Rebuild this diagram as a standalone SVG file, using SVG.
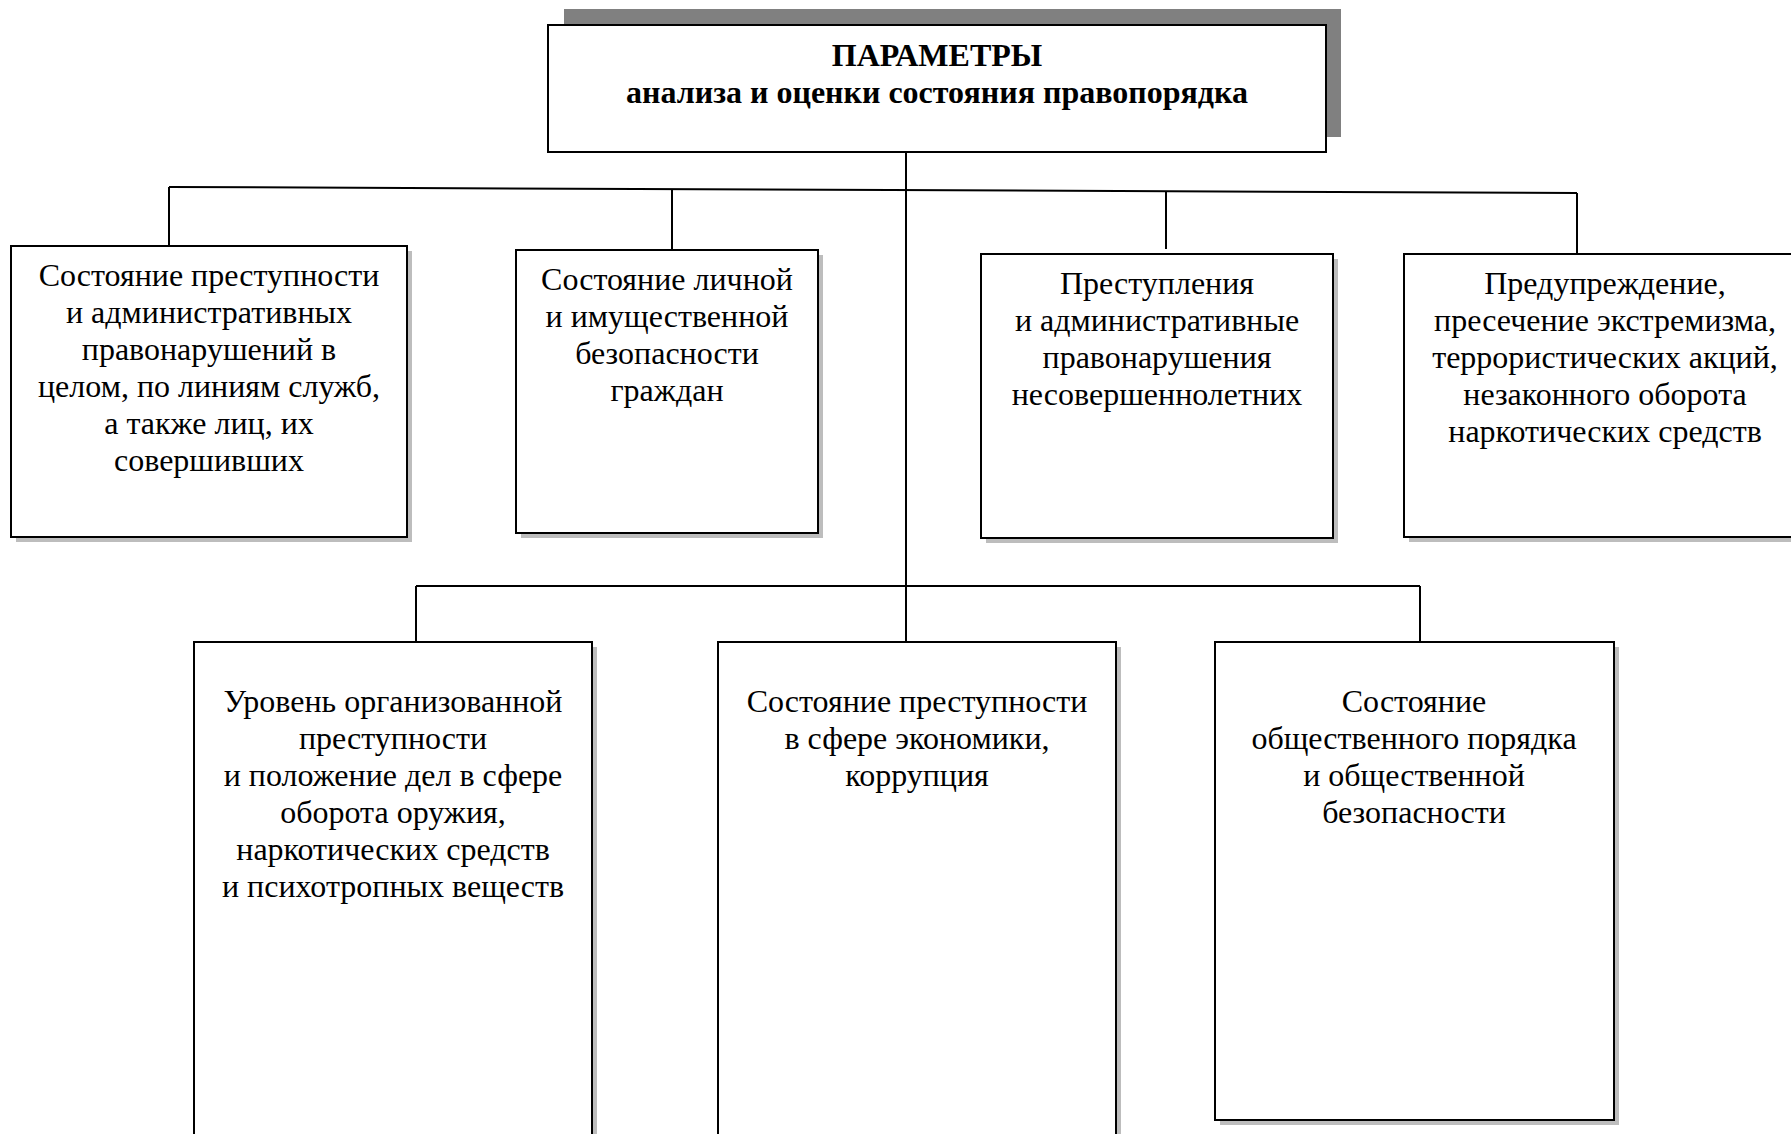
<svg xmlns="http://www.w3.org/2000/svg" width="1791" height="1134" viewBox="0 0 1791 1134">
<style>
.box{fill:#fff;stroke:#000;stroke-width:2}
.sh{fill:#bdbdbd}
.conn{stroke:#000;stroke-width:2;fill:none}
.t{font-family:"Liberation Serif","Times New Roman",serif;font-size:32px;fill:#000;text-anchor:middle}
.b{font-weight:bold}
</style>
<rect width="1791" height="1134" fill="#fff"/>
<g id="connectors">
<line class="conn" x1="906" y1="152" x2="906" y2="642"/>
<line class="conn" x1="169" y1="187" x2="1577" y2="193"/>
<line class="conn" x1="169" y1="187" x2="169" y2="246"/>
<line class="conn" x1="672" y1="189" x2="672" y2="249"/>
<line class="conn" x1="1166" y1="191" x2="1166" y2="249"/>
<line class="conn" x1="1577" y1="193" x2="1577" y2="253"/>
<line class="conn" x1="416" y1="586" x2="1420" y2="586"/>
<line class="conn" x1="416" y1="586" x2="416" y2="642"/>
<line class="conn" x1="1420" y1="586" x2="1420" y2="642"/>
</g>
<g id="root">
<rect x="564" y="9" width="777" height="128" fill="#808080"/>
<rect class="box" x="548" y="25" width="778" height="127" stroke-width="2.5"/>
<text class="t b" x="937" y="66">ПАРАМЕТРЫ</text>
<text class="t b" x="937" y="103">анализа и оценки состояния правопорядка</text>
</g>
<g id="n1">
<rect class="sh" x="16" y="251" width="396" height="291"/>
<rect class="box" x="11" y="246" width="396" height="291"/>
<text class="t"><tspan x="209" y="286">Состояние преступности</tspan><tspan x="209" y="323">и административных</tspan><tspan x="209" y="360">правонарушений в</tspan><tspan x="209" y="397">целом, по линиям служб,</tspan><tspan x="209" y="434">а также лиц, их</tspan><tspan x="209" y="471">совершивших</tspan></text>
</g>
<g id="n2">
<rect class="sh" x="521" y="255" width="302" height="283"/>
<rect class="box" x="516" y="250" width="302" height="283"/>
<text class="t"><tspan x="667" y="290">Состояние личной</tspan><tspan x="667" y="327">и имущественной</tspan><tspan x="667" y="364">безопасности</tspan><tspan x="667" y="401">граждан</tspan></text>
</g>
<g id="n3">
<rect class="sh" x="986" y="259" width="352" height="284"/>
<rect class="box" x="981" y="254" width="352" height="284"/>
<text class="t"><tspan x="1157" y="294">Преступления</tspan><tspan x="1157" y="331">и административные</tspan><tspan x="1157" y="368">правонарушения</tspan><tspan x="1157" y="405">несовершеннолетних</tspan></text>
</g>
<g id="n4">
<rect class="sh" x="1409" y="259" width="400" height="283"/>
<rect class="box" x="1404" y="254" width="400" height="283"/>
<text class="t"><tspan x="1605" y="294">Предупреждение,</tspan><tspan x="1605" y="331">пресечение экстремизма,</tspan><tspan x="1605" y="368">террористических акций,</tspan><tspan x="1605" y="405">незаконного оборота</tspan><tspan x="1605" y="442">наркотических средств</tspan></text>
</g>
<g id="n5">
<rect class="sh" x="199" y="647" width="398" height="500"/>
<rect class="box" x="194" y="642" width="398" height="500"/>
<text class="t"><tspan x="393" y="712">Уровень организованной</tspan><tspan x="393" y="749">преступности</tspan><tspan x="393" y="786">и положение дел в сфере</tspan><tspan x="393" y="823">оборота оружия,</tspan><tspan x="393" y="860">наркотических средств</tspan><tspan x="393" y="897">и психотропных веществ</tspan></text>
</g>
<g id="n6">
<rect class="sh" x="723" y="647" width="398" height="500"/>
<rect class="box" x="718" y="642" width="398" height="500"/>
<text class="t"><tspan x="917" y="712">Состояние преступности</tspan><tspan x="917" y="749">в сфере экономики,</tspan><tspan x="917" y="786">коррупция</tspan></text>
</g>
<g id="n7">
<rect class="sh" x="1220" y="647" width="399" height="478"/>
<rect class="box" x="1215" y="642" width="399" height="478"/>
<text class="t"><tspan x="1414" y="712">Состояние</tspan><tspan x="1414" y="749">общественного порядка</tspan><tspan x="1414" y="786">и общественной</tspan><tspan x="1414" y="823">безопасности</tspan></text>
</g>
</svg>
